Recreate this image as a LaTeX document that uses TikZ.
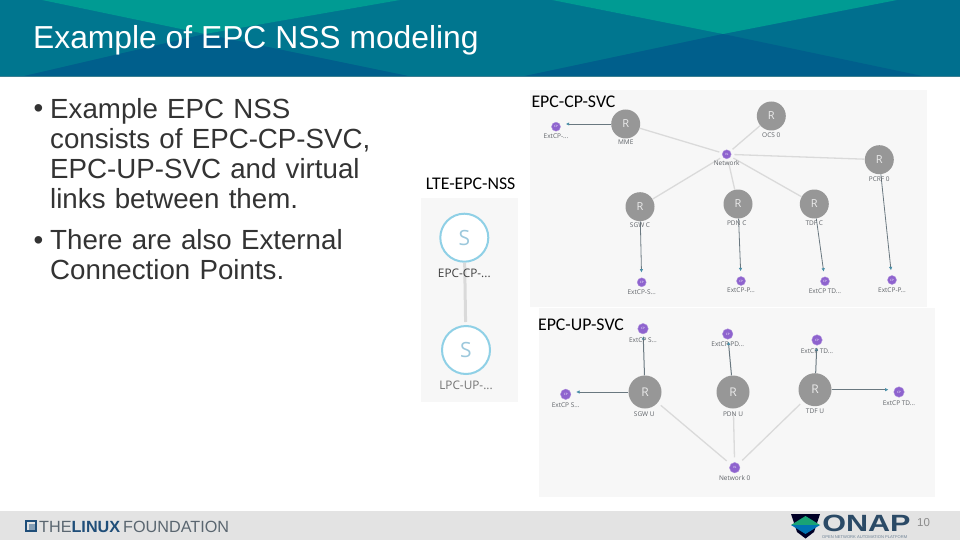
\documentclass[tikz,border=0pt]{standalone}
\usepackage{fontspec}
\setmainfont{Liberation Sans}
\newfontfamily\carl{Carlito}
\newfontfamily\opn{Open Sans}
\usetikzlibrary{arrows.meta}
\definecolor{hbase}{HTML}{006F8E}
\definecolor{hgreen}{HTML}{009B93}
\definecolor{hdark}{HTML}{005F8C}
\definecolor{hmid}{HTML}{00768F}
\definecolor{hline}{HTML}{3A7F92}
\definecolor{panel}{HTML}{F7F7F7}
\definecolor{rgrey}{HTML}{979797}
\definecolor{vl}{HTML}{8E63CE}
\definecolor{sblue}{HTML}{8FD0E6}
\definecolor{stxt}{HTML}{9CC8DC}
\definecolor{link}{HTML}{DADADA}
\definecolor{arrowc}{HTML}{6A7880}
\definecolor{tipc}{HTML}{4A8FA8}
\definecolor{foot}{HTML}{E3E3E3}
\definecolor{onapd}{HTML}{2B4A66}
\definecolor{lfblue}{HTML}{1F4E79}
\definecolor{lfgrey}{HTML}{5A6670}
\definecolor{ltxt}{HTML}{5F6368}
\tikzset{
  x=1pt,y=-1pt,
  rnode/.style={circle,fill=rgrey,text=white!92!black,minimum size=29pt,inner sep=0pt,font=\opn\fontsize{11}{11}\selectfont},
  rbig/.style={rnode,minimum size=33pt,font=\opn\fontsize{12}{12}\selectfont},
  vnode/.style={circle,fill=vl,draw=vl!70,text=white,minimum size=9pt,inner sep=0pt,font=\opn\fontsize{3}{3}\selectfont},
  vbig/.style={vnode,minimum size=10.5pt},
  snode/.style={circle,draw=sblue,line width=2pt,fill=white,text=stxt,minimum size=48pt,inner sep=0pt,font=\opn\fontsize{21}{21}\selectfont},
  glabel/.style={text=ltxt,inner sep=0pt,font=\opn\fontsize{6.5}{6.5}\selectfont},
  slabel/.style={text=black!75,inner sep=0pt,font=\opn\fontsize{11.8}{12}\selectfont},
  panellabel/.style={text=black,inner sep=0pt,font=\carl\fontsize{17.8}{18}\selectfont},
  vlink/.style={draw=link,line width=1.3pt},
  extlink/.style={draw=arrowc,line width=.8pt,-{Latex[length=3.5pt,width=3.5pt,color=tipc]},shorten >=5pt},
  bullets/.style={text=black!80,inner sep=0pt,anchor=north west,align=left,text width=345pt,font=\fontsize{27.7}{30}\selectfont}
}
\begin{document}
\begin{tikzpicture}
\useasboundingbox (0,0) rectangle (960,540);
\fill[white] (0,0) rectangle (960,540);
% header
\fill[hbase] (0,0) rectangle (960,77);
\fill[hmid] (0,0) -- (42,0) -- (205,34) -- (20,77) -- (0,77) -- cycle;
\fill[hmid] (400,0) -- (552,0) -- (723,34) -- (520,77) -- (413,77) -- (205,34) -- cycle;
\fill[hgreen] (42,0) -- (400,0) -- (205,34) -- cycle;
\fill[hgreen] (552,0) -- (897,0) -- (723,34) -- cycle;
\fill[hdark] (20,77) -- (205,34) -- (413,77) -- cycle;
\fill[hdark] (520,77) -- (723,34) -- (927,77) -- cycle;
\fill[hline] (0,76) rectangle (960,77.5);
\node[anchor=base west,inner sep=0pt,text=white,font=\fontsize{31.8}{32}\selectfont] (title) at (33,48.5) {Example of EPC NSS modeling};
% bullets
\node[anchor=base west,inner sep=0pt,text=black!80,font=\fontsize{27.7}{30}\selectfont] (b1) at (33.5,118) {•};
\node[bullets] (t1) at (50,98) {Example EPC NSS\\consists of EPC-CP-SVC,\\EPC-UP-SVC and virtual\\links between them.};
\node[anchor=base west,inner sep=0pt,text=black!80,font=\fontsize{27.7}{30}\selectfont] (b2) at (33.5,249) {•};
\node[bullets] (t2) at (50,229) {There are also External\\Connection Points.};
% panels
\fill[panel] (530,90) rectangle (927,307);
\fill[panel] (539,308) rectangle (935,497);
\fill[panel] (421,198) rectangle (518,402);
% NSS
\node[panellabel] (lnss) at (470.7,184) {LTE-EPC-NSS};
\node[snode] (s1) at (464.3,237.7) {S};
\node[snode] (s2) at (466,350) {S};
\draw[draw=link,line width=3pt,shorten >=3pt] (s1) -- (s2);
\node[slabel] (s1l) at (464.3,273.3) {EPC-CP-...};
\node[slabel,text=black!55] (s2l) at (466,385) {LPC-UP-...};
% CP
\node[panellabel] (lcp) at (573.5,102) {EPC-CP-SVC};
\node[rnode] (mme) at (625.7,124) {R};
\node[rnode] (ocs) at (771.3,116) {R};
\node[rnode] (pcrf) at (879.3,159.7) {R};
\node[rnode] (sgwc) at (640,206.7) {R};
\node[rnode] (pdnc) at (738,204) {R};
\node[rnode] (tdfc) at (814.3,204) {R};
\node[vnode] (net) at (726.7,154.3) {VL};
\node[vnode] (e1) at (556,126.7) {CP};
\node[vnode] (e2) at (641.7,282.3) {CP};
\node[vnode] (e3) at (741,281) {CP};
\node[vnode] (e4) at (825,281.3) {CP};
\node[vnode] (e5) at (892,280) {CP};
\foreach \a in {mme,ocs,pcrf,sgwc,pdnc,tdfc} \draw[vlink,shorten <=3pt] (net) -- (\a);
\draw[extlink] (mme.west) -- (e1.east |- mme.west);
\draw[extlink] (sgwc) -- (e2);
\draw[extlink] (pdnc) -- (e3);
\draw[extlink] (tdfc) -- (e4);
\draw[extlink] (pcrf) -- (e5);
\node[glabel] (l1) at (625.7,142.3) {MME};
\node[glabel] (l2) at (771.3,135) {OCS 0};
\node[glabel] (l3) at (879.3,179) {PCRF 0};
\node[glabel] (l4) at (640,225.3) {SGW C};
\node[glabel] (l5) at (736.7,222.7) {PDN C};
\node[glabel] (l6) at (814.3,222.7) {TDF C};
\node[glabel] (l7) at (726.7,163.3) {Network};
\node[glabel] (l8) at (556,136) {ExtCP-...};
\node[glabel] (l9) at (641.7,291.7) {ExtCP-S...};
\node[glabel] (l10) at (741,290.3) {ExtCP-P...};
\node[glabel] (l11) at (825,290.7) {ExtCP TD...};
\node[glabel] (l12) at (892,289.7) {ExtCP-P...};
% UP
\node[panellabel] (lup) at (581,325) {EPC-UP-SVC};
\node[rbig] (sgwu) at (645,392) {R};
\node[rbig] (pdnu) at (733,392) {R};
\node[rbig] (tdfu) at (815,389.7) {R};
\node[vbig] (net0) at (734.7,467.7) {VL};
\node[vbig] (u1) at (643,328.7) {CP};
\node[vbig] (u2) at (727.7,334) {CP};
\node[vbig] (u3) at (817,340) {CP};
\node[vbig] (u4) at (565.7,394.3) {CP};
\node[vbig] (u5) at (899,392) {CP};
\foreach \a in {sgwu,pdnu,tdfu} \draw[vlink,shorten <=5pt,shorten >=4pt] (net0) -- (\a);
\draw[extlink,line width=1pt,shorten >=2pt] (sgwu) -- (u1);
\draw[extlink,line width=1pt,shorten >=2pt] (pdnu) -- (u2);
\draw[extlink,line width=1pt,shorten >=2pt] (tdfu) -- (u3);
\draw[extlink,line width=1pt] (sgwu.west) -- (u4.east |- sgwu.west);
\draw[extlink,line width=1pt] (tdfu.east) -- (u5.west |- tdfu.east);
\node[glabel] (m1) at (644.3,414) {SGW U};
\node[glabel] (m2) at (733,414) {PDN U};
\node[glabel] (m3) at (815,411.7) {TDF U};
\node[glabel] (m4) at (734.7,478.3) {Network 0};
\node[glabel] (m5) at (643,339.7) {ExtCP S...};
\node[glabel] (m6) at (727.7,344.3) {ExtCP PD...};
\node[glabel] (m7) at (817,351) {ExtCP TD...};
\node[glabel] (m8) at (565.7,405.3) {ExtCP S...};
\node[glabel] (m9) at (899,402.7) {ExtCP TD...};
% footer
\fill[foot] (0,511) rectangle (960,540);
\draw[lfblue,line width=2pt] (26,521) rectangle (36,530.5);
\fill[lfblue!55] (29,524) rectangle (35,529.5);
\node[anchor=base west,inner sep=0pt,font=\fontsize{16.2}{16}\selectfont] (lf) at (39,532) {\textcolor{lfgrey}{THE}\textcolor{lfblue}{\textbf{LINUX}}\hspace{3pt}\textcolor{lfgrey}{FOUNDATION}};
\fill[black!85!blue] (791,514) -- (820,514) -- (814,532) -- (805.5,538.5) -- (797,532) -- cycle;
\fill[teal!80!green!90!white] (791,525) -- (805.5,516) -- (820,525) -- cycle;
\fill[blue!35!cyan!70!black] (791,525) -- (820,525) -- (805.5,534) -- cycle;
\node[anchor=base west,inner sep=0pt,text=onapd,transform shape,xscale=1.3,font=\fontsize{23.5}{23}\bfseries\selectfont] (onap) at (822,531.5) {ONAP};
\node[anchor=base west,inner sep=0pt,text=onapd!70,font=\fontsize{4.1}{4}\selectfont] (onaps) at (822,538) {OPEN NETWORK AUTOMATION PLATFORM};
\node[anchor=base west,inner sep=0pt,text=black!45,font=\fontsize{11.5}{12}\selectfont] (pg) at (917,526.5) {10};
\end{tikzpicture}
\end{document}
